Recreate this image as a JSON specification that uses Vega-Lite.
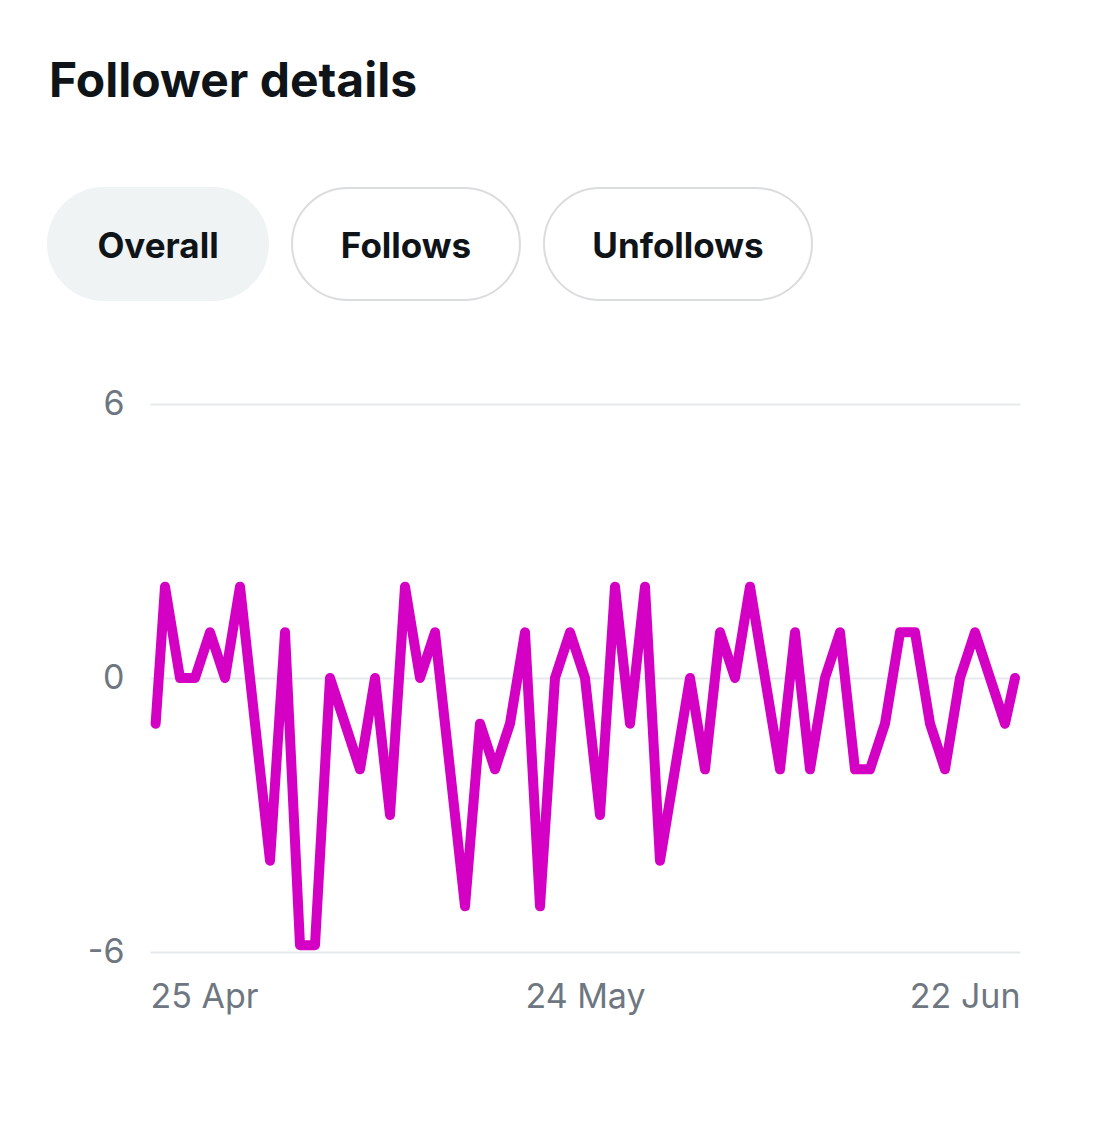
{
  "$schema": "https://vega.github.io/schema/vega-lite/v6.json",
  "background": "white",
  "padding": {"left": 47, "top": 59, "right": 10, "bottom": 10},
  "autosize": {"type": "pad"},
  "title": {"text": "Follower details", "anchor": "start", "font": "Inter", "fontSize": 48, "fontWeight": "bold", "color": "#0f1419", "offset": 80, "dx": 2},
  "config": {"view": {"stroke": null}},
  "bounds": "flush",
  "spacing": 104,
  "vconcat": [
    {
      "width": 870,
      "height": 112,
      "data": {"values": [
        {"label": "Overall", "start": -102, "end": 118, "mid": 8, "active": true},
        {"label": "Follows", "start": 142, "end": 370, "mid": 256, "active": false},
        {"label": "Unfollows", "start": 394, "end": 662, "mid": 528, "active": false}
      ]},
      "layer": [
        {
          "mark": {"type": "rect", "cornerRadius": 56, "strokeWidth": 2, "clip": false},
          "encoding": {
            "x": {"field": "start", "type": "quantitative", "scale": {"domain": [0, 870], "nice": false, "zero": false}, "axis": null},
            "x2": {"field": "end"},
            "fill": {"condition": {"test": "datum.active", "value": "#eff3f4"}, "value": "#ffffff"},
            "stroke": {"condition": {"test": "datum.active", "value": "#eff3f4"}, "value": "#dadcde"}
          }
        },
        {
          "mark": {"type": "text", "font": "Inter", "fontSize": 35, "fontWeight": "bold", "color": "#0f1419", "dy": 3, "clip": false},
          "encoding": {
            "x": {"field": "mid", "type": "quantitative", "scale": {"domain": [0, 870], "nice": false, "zero": false}, "axis": null},
            "text": {"field": "label"}
          }
        }
      ]
    },
    {
      "width": 870,
      "height": 548,
      "data": {"values": [
        {"date": "2024-04-25T09:00", "value": -1},
        {"date": "2024-04-26T00:00", "value": 2},
        {"date": "2024-04-27T00:00", "value": 0},
        {"date": "2024-04-28T00:00", "value": 0},
        {"date": "2024-04-29T00:00", "value": 1},
        {"date": "2024-04-30T00:00", "value": 0},
        {"date": "2024-05-01T00:00", "value": 2},
        {"date": "2024-05-02T00:00", "value": -1},
        {"date": "2024-05-03T00:00", "value": -4},
        {"date": "2024-05-04T00:00", "value": 1},
        {"date": "2024-05-05T00:00", "value": -5.85},
        {"date": "2024-05-06T00:00", "value": -5.85},
        {"date": "2024-05-07T00:00", "value": 0},
        {"date": "2024-05-08T00:00", "value": -1},
        {"date": "2024-05-09T00:00", "value": -2},
        {"date": "2024-05-10T00:00", "value": 0},
        {"date": "2024-05-11T00:00", "value": -3},
        {"date": "2024-05-12T00:00", "value": 2},
        {"date": "2024-05-13T00:00", "value": 0},
        {"date": "2024-05-14T00:00", "value": 1},
        {"date": "2024-05-15T00:00", "value": -2},
        {"date": "2024-05-16T00:00", "value": -5},
        {"date": "2024-05-17T00:00", "value": -1},
        {"date": "2024-05-18T00:00", "value": -2},
        {"date": "2024-05-19T00:00", "value": -1},
        {"date": "2024-05-20T00:00", "value": 1},
        {"date": "2024-05-21T00:00", "value": -5},
        {"date": "2024-05-22T00:00", "value": 0},
        {"date": "2024-05-23T00:00", "value": 1},
        {"date": "2024-05-24T00:00", "value": 0},
        {"date": "2024-05-25T00:00", "value": -3},
        {"date": "2024-05-26T00:00", "value": 2},
        {"date": "2024-05-27T00:00", "value": -1},
        {"date": "2024-05-28T00:00", "value": 2},
        {"date": "2024-05-29T00:00", "value": -4},
        {"date": "2024-05-30T00:00", "value": -2},
        {"date": "2024-05-31T00:00", "value": 0},
        {"date": "2024-06-01T00:00", "value": -2},
        {"date": "2024-06-02T00:00", "value": 1},
        {"date": "2024-06-03T00:00", "value": 0},
        {"date": "2024-06-04T00:00", "value": 2},
        {"date": "2024-06-05T00:00", "value": 0},
        {"date": "2024-06-06T00:00", "value": -2},
        {"date": "2024-06-07T00:00", "value": 1},
        {"date": "2024-06-08T00:00", "value": -2},
        {"date": "2024-06-09T00:00", "value": 0},
        {"date": "2024-06-10T00:00", "value": 1},
        {"date": "2024-06-11T00:00", "value": -2},
        {"date": "2024-06-12T00:00", "value": -2},
        {"date": "2024-06-13T00:00", "value": -1},
        {"date": "2024-06-14T00:00", "value": 1},
        {"date": "2024-06-15T00:00", "value": 1},
        {"date": "2024-06-16T00:00", "value": -1},
        {"date": "2024-06-17T00:00", "value": -2},
        {"date": "2024-06-18T00:00", "value": 0},
        {"date": "2024-06-19T00:00", "value": 1},
        {"date": "2024-06-20T00:00", "value": 0},
        {"date": "2024-06-21T00:00", "value": -1},
        {"date": "2024-06-21T16:00", "value": 0}
      ]},
      "mark": {"type": "line", "color": "#d400c4", "strokeWidth": 10, "strokeCap": "round", "strokeJoin": "round", "clip": false},
      "encoding": {
        "x": {
          "field": "date", "type": "temporal",
          "scale": {"domain": [{"year": 2024, "month": 4, "date": 25}, {"year": 2024, "month": 6, "date": 22}]},
          "axis": {
            "values": [{"year": 2024, "month": 4, "date": 25}, {"year": 2024, "month": 5, "date": 24}, {"year": 2024, "month": 6, "date": 22}],
            "format": "%-d %b", "labelFlush": true, "grid": false, "domain": false, "ticks": false,
            "labelPadding": 28, "labelFontSize": 34, "labelFont": "Inter", "labelColor": "#6e7781", "title": null
          }
        },
        "y": {
          "field": "value", "type": "quantitative",
          "scale": {"domain": [-6, 6], "nice": false},
          "axis": {
            "values": [-6, 0, 6], "labelExpr": "'' + datum.value", "grid": true, "gridColor": "#e6e9ec", "gridWidth": 2, "domain": false, "ticks": false,
            "labelPadding": 26, "labelFontSize": 34, "labelFont": "Inter", "labelColor": "#6e7781", "title": null
          }
        }
      }
    }
  ]
}
